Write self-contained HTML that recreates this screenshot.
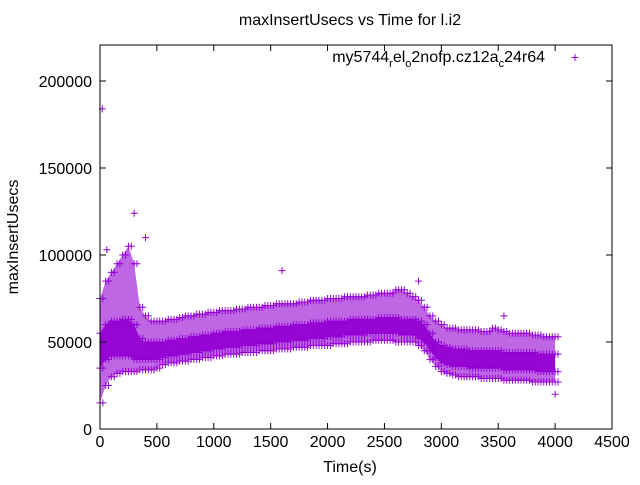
<!DOCTYPE html>
<html><head><meta charset="utf-8"><style>
body{margin:0;background:#fff;}
svg{font-family:"Liberation Sans",sans-serif;font-size:16px;}
</style></head><body>
<svg id="chart" width="640" height="480">
<text x="350" y="25" text-anchor="middle">maxInsertUsecs vs Time for l.i2</text>
<text x="350" y="472" text-anchor="middle">Time(s)</text>
<text transform="translate(18,237) rotate(-90)" text-anchor="middle">maxInsertUsecs</text>
<g id="marks"></g>
<g id="axes"></g>
<g>
<text x="545" y="62" text-anchor="end">my5744<tspan font-size="11" dy="5">r</tspan><tspan dy="-5">el</tspan><tspan font-size="11" dy="5">o</tspan><tspan dy="-5">2nofp.cz12a</tspan><tspan font-size="11" dy="5">c</tspan><tspan dy="-5">24r64</tspan></text>
<text x="575" y="62" text-anchor="middle" fill="#9400d3" font-size="14">+</text>
</g>
</svg>
<script>
const step = 50;
const lo = [15,25,30,32,33,33,33,34,34,34,35,37,38,38,39,39,40,40,41,41,42,42,43,43,43,44,44,44,45,45,45,46,46,46,47,47,47,48,48,48,48,49,49,49,50,50,50,50,51,51,51,51,50,50,50,50,48,45,40,36,33,32,31,30,30,30,30,29,29,29,29,28,28,28,28,28,27,27,27,27,27];
const q1 = [35,40,42,42,42,42,40,40,40,40,40,41,42,42,43,43,44,44,45,45,46,46,47,47,47,48,48,48,49,49,49,50,50,50,51,51,51,52,52,52,53,53,53,54,54,54,54,55,55,55,55,55,55,54,54,54,52,50,45,41,38,37,36,36,36,35,35,35,35,35,35,34,34,34,34,34,34,33,33,33,33];
const q3 = [55,60,62,62,63,63,60,52,50,50,50,50,51,51,52,52,53,53,54,54,55,55,56,56,56,57,57,57,58,58,58,59,59,59,60,60,60,61,61,61,62,62,62,62,63,63,63,63,63,64,64,64,64,63,63,63,62,60,55,50,48,47,46,46,46,45,45,45,45,45,45,44,44,44,44,44,44,43,43,43,43];
const hi = [75,85,90,95,100,105,95,70,65,62,62,62,63,63,64,65,65,66,66,67,67,68,68,68,69,69,70,70,70,71,71,72,72,72,72,73,73,74,74,74,75,75,75,76,76,76,76,77,77,78,78,78,80,80,78,76,74,70,65,62,60,58,58,57,57,57,57,56,56,58,57,56,55,55,55,55,54,54,53,53,53];
const outT = [20,60,300,400,1600,2800,4000,3550];
const outV = [184000,103000,124000,110000,91000,85000,20000,65000];
const xTicks = [0,500,1000,1500,2000,2500,3000,3500,4000,4500];
const yTicks = [0,50000,100000,150000,200000];
const L=100,R=612,T=45,B=429;
const X = t => L + t*(R-L)/4500;
const Y = v => B - v*(B-81)/200000;
const NS='http://www.w3.org/2000/svg';
const marks=document.getElementById('marks'), axes=document.getElementById('axes');
function mk(tag,at,parent){const e=document.createElementNS(NS,tag);for(const k in at)e.setAttribute(k,at[k]);parent.appendChild(e);return e;}
function band(a,b,op){
  let p=[];
  for(let i=0;i<a.length;i++)p.push(X(Math.min(i*step,4030))+','+Y(a[i]*1000));
  for(let i=b.length-1;i>=0;i--)p.push(X(Math.min(i*step,4030))+','+Y(b[i]*1000));
  const e=mk('polygon',{points:p.join(' '),fill:'#9400d3','fill-opacity':op},marks);
  
  
}
band(lo,hi,0.6);
band(q1,q3,0.95);
function plus(t,v){
  const x=X(t),y=Y(v);
  const e=mk('path',{d:`M${x-3.5},${y}h7M${x},${y-3.5}v7`,stroke:'#9400d3','stroke-width':1},marks);
  
  
}
[lo,q1,q3,hi].forEach(arr=>arr.forEach((v,i)=>{plus(Math.min(i*step,4030),v*1000);plus(Math.min(i*step+25,4030),v*1000);}));
outT.forEach((t,i)=>plus(t,outV[i]));
const fr=mk('rect',{x:L,y:T,width:R-L,height:B-T,fill:'none',stroke:'#000','stroke-width':1},axes);


xTicks.forEach(t=>{
  const x=X(t);
  mk('path',{d:`M${x},${B}v-6M${x},${T}v6`,stroke:'#000'},axes);
  const e=mk('text',{x:x,y:B+18,'text-anchor':'middle'},axes);e.textContent=t;
  
  
});
yTicks.forEach(v=>{
  const y=Y(v);
  mk('path',{d:`M${L},${y}h6M${R},${y}h-6`,stroke:'#000'},axes);
  const e=mk('text',{x:L-8,y:y+6,'text-anchor':'end'},axes);e.textContent=v;
  
  
});
</script>
</body></html>
